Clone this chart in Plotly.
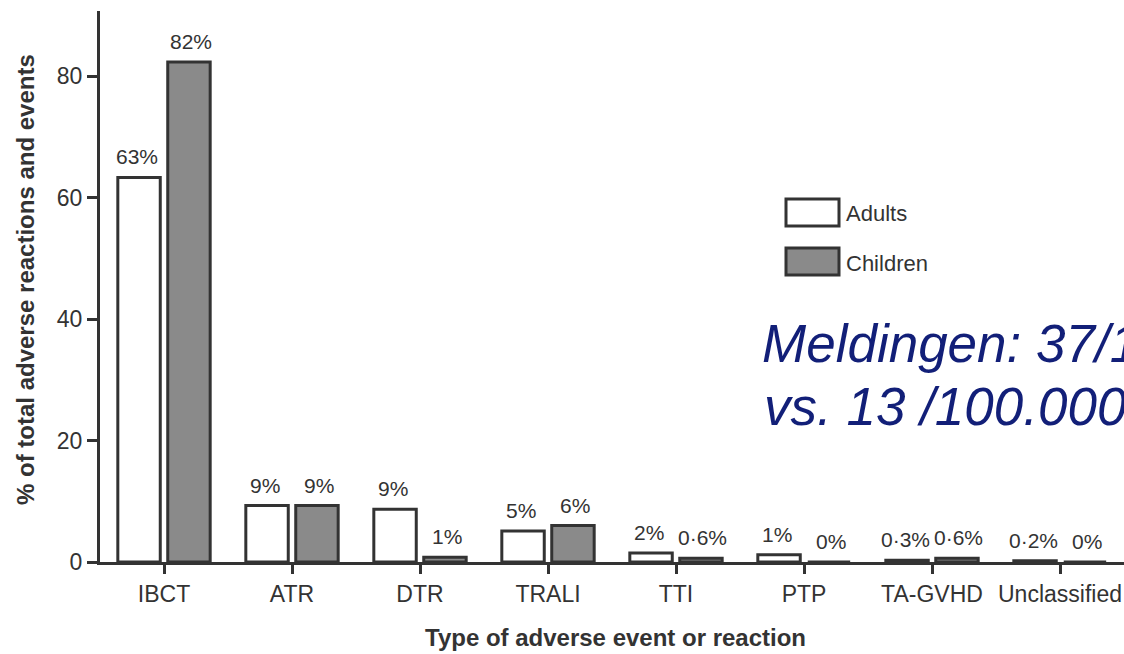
import plotly.graph_objects as go

categories = ["IBCT", "ATR", "DTR", "TRALI", "TTI", "PTP", "TA-GVHD", "Unclassified"]
adults = [63.3, 9.3, 8.7, 5.1, 1.5, 1.2, 0.3, 0.2]
children = [82.3, 9.3, 0.8, 6.0, 0.6, 0.0, 0.6, 0.0]
adult_labels = ["63%", "9%", "9%", "5%", "2%", "1%", "0·3%", "0·2%"]
child_labels = ["82%", "9%", "1%", "6%", "0·6%", "0%", "0·6%", "0%"]
y_ticks = [0, 20, 40, 60, 80]

FONT = "Arial, Liberation Sans, Helvetica, sans-serif"
INK = "#333333"
W, H = 1124, 654
ML, MR, MT, MB = 100, 0, 11, 92
PW, PH = W - ML - MR, H - MT - MB


def px(x):
    return (x - ML) / PW


def py(y):
    return (H - MB - y) / PH


fig = go.Figure()
fig.add_trace(go.Bar(
    x=categories, y=adults, name="Adults",
    marker=dict(color="white", line=dict(color=INK, width=3)),
))
fig.add_trace(go.Bar(
    x=categories, y=children, name="Children",
    marker=dict(color="#8a8a8a", line=dict(color=INK, width=3)),
))

annotations = []
off = 0.195
for i, (v, t) in enumerate(zip(adults, adult_labels)):
    annotations.append(dict(x=i - off, y=v, xref="x", yref="y", text=t, showarrow=False,
                            yanchor="bottom", yshift=7, xshift=-2,
                            font=dict(family=FONT, size=21, color=INK)))
for i, (v, t) in enumerate(zip(children, child_labels)):
    annotations.append(dict(x=i + off, y=v, xref="x", yref="y", text=t, showarrow=False,
                            yanchor="bottom", yshift=7, xshift=2,
                            font=dict(family=FONT, size=21, color=INK)))

# axis titles
annotations.append(dict(x=px(25), y=py(280), xref="paper", yref="paper",
                        text="<b>% of total adverse reactions and events</b>", textangle=-90,
                        showarrow=False, xanchor="center", yanchor="middle",
                        font=dict(family=FONT, size=24, color=INK)))
annotations.append(dict(x=px(615), y=py(637), xref="paper", yref="paper",
                        text="<b>Type of adverse event or reaction</b>",
                        showarrow=False, xanchor="center", yanchor="middle",
                        font=dict(family=FONT, size=24, color=INK)))

# legend
shapes = []
for (y0, y1, fill) in [(199, 226, "white"), (248, 275, "#8a8a8a")]:
    shapes.append(dict(type="rect", xref="paper", yref="paper",
                       x0=px(786), x1=px(839), y0=py(y1), y1=py(y0),
                       fillcolor=fill, line=dict(color=INK, width=3)))
annotations.append(dict(x=px(844), y=py(213), xref="paper", yref="paper", text="Adults",
                        showarrow=False, xanchor="left", yanchor="middle",
                        font=dict(family=FONT, size=22, color=INK)))
annotations.append(dict(x=px(844), y=py(263), xref="paper", yref="paper", text="Children",
                        showarrow=False, xanchor="left", yanchor="middle",
                        font=dict(family=FONT, size=22, color=INK)))

# blue note (cut off at the right edge, as in the original slide)
annotations.append(dict(x=px(760), y=py(344), xref="paper", yref="paper",
                        text="<i>Meldingen: 37/100.000</i>",
                        showarrow=False, xanchor="left", yanchor="middle",
                        font=dict(family=FONT, size=53, color="#121f78")))
annotations.append(dict(x=px(762), y=py(406), xref="paper", yref="paper",
                        text="<i>vs. 13 /100.000</i>",
                        showarrow=False, xanchor="left", yanchor="middle",
                        font=dict(family=FONT, size=53, color="#121f78")))

fig.update_layout(
    width=W, height=H,
    margin=dict(l=ML, r=MR, t=MT, b=MB, pad=0),
    paper_bgcolor="white", plot_bgcolor="white",
    barmode="group", bargap=0.22, bargroupgap=0.15,
    showlegend=False,
    annotations=annotations, shapes=shapes,
    font=dict(family=FONT, color=INK),
)
fig.update_xaxes(
    range=[-0.5, 7.5], showline=True, linecolor=INK, linewidth=3,
    ticks="outside", ticklen=9, tickwidth=2.5, tickcolor=INK,
    tickfont=dict(family=FONT, size=23, color=INK),
    showgrid=False, zeroline=False,
)
fig.update_yaxes(
    range=[0, 90.7], tickvals=y_ticks, showline=True, linecolor=INK, linewidth=3,
    ticks="outside", ticklen=10, tickwidth=2.5, tickcolor=INK,
    tickfont=dict(family=FONT, size=23, color=INK),
    showgrid=False, zeroline=False,
)

fig.write_html(
    "out.html",
    config={"displayModeBar": False},
    post_script="document.body.style.margin='0';document.documentElement.style.overflow='hidden';document.body.style.overflow='hidden';",
)
